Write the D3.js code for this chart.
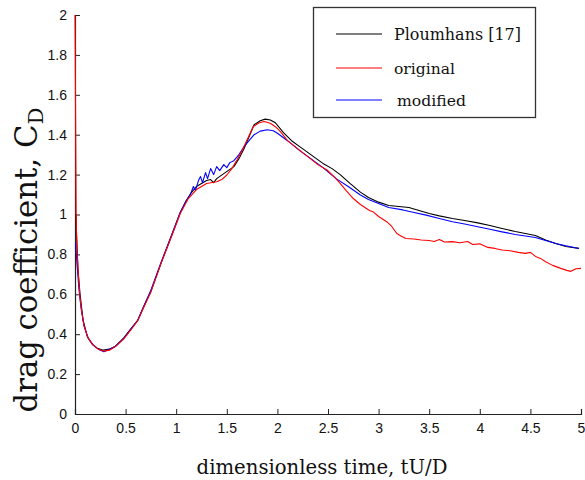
<!DOCTYPE html>
<html><head><meta charset="utf-8">
<script src="https://cdn.jsdelivr.net/npm/d3@7"></script>
<style>body{margin:0;background:#fff}svg{display:block}</style>
</head><body>
<svg id="c" width="585" height="480"></svg>
<script>
const xTicks = [0,0.5,1,1.5,2,2.5,3,3.5,4,4.5,5];
const yTicks = [0,0.2,0.4,0.6,0.8,1,1.2,1.4,1.6,1.8,2];
const seriesNames = ["Ploumhans [17]","original","modified"];
const seriesColors = ["#000000","#ff0000","#0000ff"];

const ploumhansT = [0.01,0.015,0.03,0.05,0.08,0.12,0.17,0.22,0.28,0.34,0.4,0.48,0.55,0.62,0.68,0.75,0.85,0.95,1.04,1.1,1.15,1.2,1.25,1.3,1.34,1.37,1.4,1.47,1.57,1.62,1.67,1.72,1.77,1.83,1.88,1.93,1.98,2.06,2.14,2.22,2.33,2.45,2.54,2.62,2.72,2.82,2.9,3.0,3.1,3.2,3.3,3.4,3.5,3.6,3.73,3.85,3.98,4.1,4.22,4.35,4.45,4.55,4.65,4.75,4.85,4.98];
const ploumhansV = [1.0,0.9,0.72,0.6,0.47,0.39,0.35,0.33,0.32,0.325,0.34,0.38,0.425,0.47,0.54,0.615,0.755,0.89,1.01,1.07,1.11,1.14,1.155,1.17,1.175,1.16,1.18,1.205,1.24,1.28,1.33,1.39,1.45,1.47,1.478,1.474,1.46,1.41,1.37,1.34,1.3,1.256,1.23,1.2,1.155,1.112,1.085,1.062,1.045,1.04,1.035,1.02,1.005,0.993,0.98,0.97,0.958,0.945,0.93,0.915,0.905,0.895,0.872,0.855,0.84,0.83];

const modifiedT = [0.005,0.02,0.04,0.06,0.09,0.13,0.18,0.23,0.285,0.34,0.4,0.48,0.55,0.62,0.68,0.75,0.85,0.95,1.04,1.1,1.14,1.17,1.19,1.22,1.24,1.26,1.29,1.31,1.34,1.37,1.4,1.43,1.47,1.5,1.53,1.57,1.62,1.67,1.72,1.77,1.83,1.9,1.96,2.0,2.1,2.22,2.33,2.45,2.58,2.7,2.82,2.9,3.0,3.1,3.24,3.35,3.47,3.6,3.73,3.85,3.98,4.1,4.22,4.35,4.55,4.65,4.75,4.85,4.98];
const modifiedV = [0.86,0.75,0.62,0.53,0.44,0.38,0.345,0.325,0.312,0.325,0.34,0.378,0.425,0.47,0.54,0.62,0.76,0.89,1.01,1.07,1.1,1.14,1.12,1.17,1.19,1.16,1.21,1.18,1.23,1.2,1.24,1.22,1.25,1.235,1.26,1.27,1.3,1.34,1.37,1.4,1.418,1.425,1.42,1.407,1.37,1.32,1.28,1.235,1.18,1.14,1.098,1.075,1.055,1.035,1.023,1.01,0.997,0.98,0.964,0.952,0.939,0.926,0.913,0.9,0.885,0.87,0.855,0.843,0.83];

const originalT = [0,0.008,0.012,0.02,0.035,0.05,0.07,0.09,0.13,0.18,0.23,0.29,0.34,0.4,0.48,0.55,0.62,0.68,0.75,0.85,0.95,1.04,1.12,1.2,1.3,1.4,1.45,1.5,1.55,1.6,1.65,1.7,1.76,1.82,1.87,1.93,1.98,2.03,2.1,2.2,2.3,2.4,2.49,2.56,2.62,2.68,2.75,2.82,2.91,2.95,3.0,3.08,3.13,3.18,3.23,3.27,3.35,3.42,3.5,3.55,3.6,3.65,3.73,3.8,3.88,3.93,4.0,4.08,4.15,4.22,4.3,4.38,4.45,4.5,4.55,4.6,4.65,4.72,4.8,4.86,4.9,4.95,5.0];
const originalV = [2.0,1.3,0.97,0.82,0.68,0.58,0.5,0.44,0.38,0.345,0.325,0.315,0.32,0.338,0.375,0.42,0.468,0.535,0.612,0.755,0.885,1.005,1.08,1.125,1.155,1.164,1.175,1.198,1.23,1.273,1.32,1.373,1.44,1.46,1.466,1.457,1.44,1.415,1.37,1.33,1.29,1.25,1.223,1.19,1.156,1.12,1.08,1.05,1.02,1.012,0.99,0.964,0.94,0.905,0.89,0.88,0.877,0.872,0.87,0.865,0.875,0.862,0.864,0.858,0.865,0.85,0.853,0.835,0.83,0.822,0.818,0.81,0.805,0.81,0.79,0.78,0.763,0.745,0.73,0.72,0.715,0.728,0.73];

const svg = d3.select("#c");
const x = d3.scaleLinear().domain([0,5]).range([75,581]);
const y = d3.scaleLinear().domain([0,2]).range([414,15]);
const axisColor = "#222";
const serif = "'DejaVu Serif', 'Liberation Serif', serif";

// scale a text element's font so it spans a target length
function fit(sel, target){
  const node = sel.node();
  const fs0 = +sel.attr("font-size");
  const w = node.getComputedTextLength();
  const f = target / w;
  sel.attr("font-size", fs0 * f);
  sel.selectAll("tspan").each(function(){
    const t = d3.select(this);
    if (t.attr("font-size")) t.attr("font-size", +t.attr("font-size") * f);
    if (t.attr("dy")) t.attr("dy", +t.attr("dy") * f);
  });
}

// axes
const gx = svg.append("g").attr("transform","translate(0,414)")
  .call(d3.axisBottom(x).tickValues(xTicks).tickSize(-5).tickPadding(9).tickFormat(d3.format("")));
const gy = svg.append("g").attr("transform","translate(75,0)")
  .call(d3.axisLeft(y).tickValues(yTicks).tickSize(-5).tickPadding(8).tickFormat(d3.format("")));
[gx,gy].forEach(g=>{
  g.select(".domain").attr("stroke",axisColor).attr("stroke-width",1.2);
  g.selectAll(".tick line").attr("stroke",axisColor);
  g.selectAll(".tick text").attr("fill","#111").attr("font-family","'Liberation Sans', Arial, sans-serif").attr("font-size",14);
});

// series
const line = d3.line().x(d=>x(d[0])).y(d=>y(d[1]));
const data = [
  d3.zip(ploumhansT, ploumhansV),
  d3.zip(modifiedT, modifiedV),
  d3.zip(originalT, originalV)
];
const colorsInOrder = [seriesColors[0], seriesColors[2], seriesColors[1]];
data.forEach((d,i)=>{
  svg.append("path").datum(d).attr("d",line).attr("fill","none")
    .attr("stroke",colorsInOrder[i]).attr("stroke-width",1.1).attr("stroke-linejoin","round");
});

// legend
const lg = svg.append("g");
lg.append("rect").attr("x",313.5).attr("y",7.5).attr("width",222).attr("height",110)
  .attr("fill","#fff").attr("stroke","#333").attr("stroke-width",1.3);
const rowsY = [34,68,100];
const textX = [394,394,397];
const textW = [127,61,69];
seriesNames.forEach((n,i)=>{
  lg.append("line").attr("x1",336).attr("x2",382).attr("y1",rowsY[i]).attr("y2",rowsY[i])
    .attr("stroke",seriesColors[i]).attr("stroke-width",1.1);
  const t = lg.append("text").attr("x",textX[i]).attr("y",rowsY[i]+6).text(n)
    .attr("font-family",serif).attr("font-size",16).attr("fill","#111");
  fit(t, textW[i]);
});

// axis labels
const xl = svg.append("text").attr("x",322).attr("y",474).attr("text-anchor","middle")
  .attr("font-family",serif).attr("font-size",22).attr("fill","#111")
  .text("dimensionless time, tU/D");
fit(xl, 251);
const yl = svg.append("text").attr("transform","translate(37,260) rotate(-90)").attr("text-anchor","middle")
  .attr("font-family",serif).attr("font-size",26).attr("fill","#111");
yl.append("tspan").text("drag coefficient, C");
yl.append("tspan").attr("font-size",18).attr("dy",5).text("D");
fit(yl, 305);
</script>
</body></html>
